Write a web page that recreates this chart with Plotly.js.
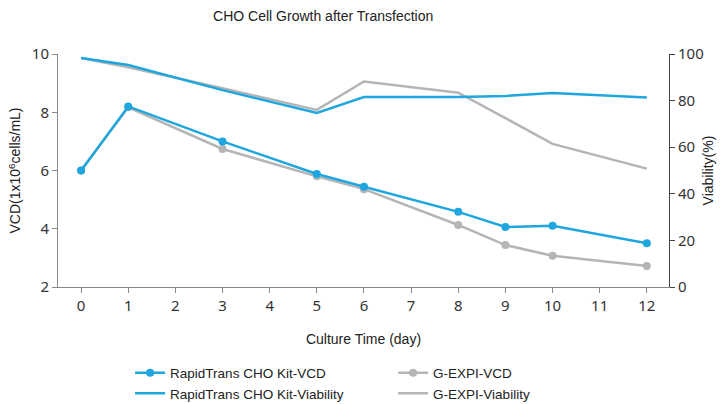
<!DOCTYPE html>
<html>
<head>
<meta charset="utf-8">
<script src="https://cdn.plot.ly/plotly-3.0.1.min.js"></script>
<style>html,body{margin:0;padding:0;background:#fff}#chart{width:723px;height:404px}</style>
</head>
<body>
<div id="chart"></div>
<script>
const days = [0, 1, 3, 5, 6, 8, 9, 10, 12];
const rapidVCD = [6.0, 8.2, 7.0, 5.88, 5.44, 4.58, 4.06, 4.1, 3.5];
const gexpiVCD = [6.0, 8.17, 6.74, 5.8, 5.36, 4.13, 3.44, 3.07, 2.72];
const rapidViability = [98.3, 95.3, 84.5, 74.7, 81.5, 81.5, 82, 83.3, 81.3];
const gexpiViability = [98.3, 94.3, 85.3, 76, 88.2, 83.4, 72.5, 61.4, 50.8];
const xTicks = [0,1,2,3,4,5,6,7,8,9,10,11,12];

const blue = '#1fa6de';
const gray = '#b5b5b5';
const tickFont = {family: 'Noto Sans, sans-serif', size: 15, color: '#333'};
const textFont = {family: 'Liberation Sans, Arial, sans-serif', size: 14, color: '#222'};

const traces = [
  {x: days, y: gexpiViability, name: 'G-EXPI-Viability', yaxis: 'y2', mode: 'lines',
   line: {color: gray, width: 2.5}, legendrank: 4},
  {x: days, y: gexpiVCD, name: 'G-EXPI-VCD', mode: 'lines+markers',
   line: {color: gray, width: 2.5}, marker: {color: gray, size: 8}, legendrank: 2},
  {x: days, y: rapidViability, name: 'RapidTrans CHO Kit-Viability', yaxis: 'y2', mode: 'lines',
   line: {color: blue, width: 2.5}, legendrank: 3},
  {x: days, y: rapidVCD, name: 'RapidTrans CHO Kit-VCD', mode: 'lines+markers',
   line: {color: blue, width: 2.5}, marker: {color: blue, size: 8}, legendrank: 1}
];

const layout = {
  width: 723, height: 404,
  margin: {l: 58, r: 54, t: 54, b: 117},
  paper_bgcolor: '#fff', plot_bgcolor: '#fff',
  showlegend: true,
  title: {text: 'CHO Cell Growth after Transfection', x: 0.447, xanchor: 'center', y: 0.96, yanchor: 'middle',
          font: textFont},
  xaxis: {
    range: [-0.49, 12.47], tickvals: xTicks, ticktext: xTicks.map(String),
    showgrid: false, zeroline: false, showline: true, linecolor: '#888', linewidth: 1,
    ticks: 'outside', ticklen: 5, tickcolor: '#888', tickfont: tickFont,
    title: {text: 'Culture Time (day)', standoff: 20, font: textFont}
  },
  yaxis: {
    range: [2, 10], tickvals: [2,4,6,8,10],
    showgrid: false, zeroline: false, showline: true, linecolor: '#888', linewidth: 1,
    ticks: 'outside', ticklen: 5, tickcolor: '#888', tickfont: tickFont,
    title: {text: 'VCD(1x10<sup>6</sup>cells/mL)', standoff: 7, font: textFont}
  },
  yaxis2: {
    overlaying: 'y', side: 'right', range: [0, 100], tickvals: [0,20,40,60,80,100],
    showgrid: false, zeroline: false, showline: true, linecolor: '#444', linewidth: 1,
    ticks: 'outside', ticklen: 5, tickcolor: '#444', tickfont: tickFont,
    title: {text: 'Viability(%)', standoff: 0, font: textFont}
  },
  legend: {
    orientation: 'h', xref: 'paper', x: 0.118, xanchor: 'left',
    yref: 'container', y: 0.115, yanchor: 'top',
    entrywidth: 218, entrywidthmode: 'pixels', traceorder: 'normal',
    font: {family: 'Liberation Sans, Arial, sans-serif', size: 13.5, color: '#222'},
    itemwidth: 30, bgcolor: 'rgba(0,0,0,0)'
  }
};

Plotly.newPlot('chart', traces, layout, {staticPlot: true, displayModeBar: false});
</script>
</body>
</html>
